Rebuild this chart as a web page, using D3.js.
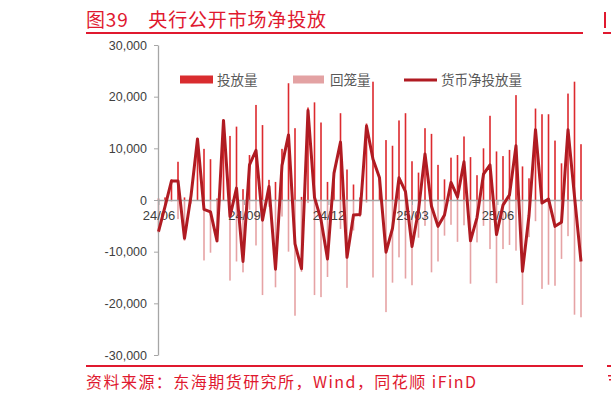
<!DOCTYPE html>
<html>
<head>
<meta charset="utf-8">
<script src="https://cdn.jsdelivr.net/npm/d3@7"></script>
<style>
  html, body { margin: 0; padding: 0; background: #fff; }
  svg { display: block; }
  text { font-family: "Liberation Sans", "Noto Sans CJK SC", sans-serif; }
  .cjk { font-family: "Noto Sans CJK SC", sans-serif; }
</style>
</head>
<body>
<div id="chart"></div>
<script>
'use strict'

// weekly data, first week ending 2024-06-07
const firstWeek = '2024-06-07'
const injection = [300, 500, 4000, 7400, 500, 1500, 12000, 9900, 7900, 300,
  15500, 12400, 14200, 2100, 8700, 18400, 14500, 3900, 3500, 9900,
  22600, 13900, 600, 17900, 18900, 15000, 3500, 5400, 16800, 5900,
  3000, 500, 14800, 22900, 4400, 11600, 10500, 15400, 16800, 7500,
  5300, 13900, 12800, 6800, 4000, 8200, 8700, 12300, 8300, 4800,
  10000, 16300, 9400, 8500, 9700, 20300, 6500, 4200, 17700, 16600,
  16600, 11500, 7100, 20600, 22900, 10800]
const withdrawal = [-6400, -1800, -300, -3700, -7900, -700, -200, -11700, -10200, -8200,
  -100, -15600, -11900, -14000, -1900, -8800, -18400, -1300, -16900, -3200,
  -10000, -22400, -13900, -600, -18400, -18800, -14900, -200, -5600, -17000,
  -5900, -3300, -500, -15000, -100, -21700, -16000, -11100, -15200, -16500,
  -7300, -5000, -14000, -11900, -6900, -4800, -8100, -4900, -16200, -8200,
  -5000, -9500, -16100, -9500, -8700, -9800, -20300, -7200, -4100, -17200,
  -16400, -16600, -11400, -7000, -22200, -22700]
const netInjection = [-6100, -1300, 3700, 3700, -7400, 800, 11800, -1800, -2300, -7900,
  15400, -3200, 2300, -11900, 6800, 9600, -3900, 2600, -13400, 6700,
  12600, -8500, -13300, 17300, 500, -3800, -11400, 5200, 11200, -11100,
  -2900, -2800, 14300, 7900, 4300, -10100, -5500, 4300, 1600, -9000,
  -2000, 8900, -1200, -5100, -2900, 3400, 600, 7400, -7900, -3400,
  5000, 6800, -6700, -1000, 1000, 10500, -13800, -3000, 13600, -600,
  200, -5100, -4300, 13600, 700, -11900]
const yTicks = [-30000, -20000, -10000, 0, 10000, 20000, 30000]
const xTickLabels = ['24/06', '24/09', '24/12', '25/03', '25/06']
const seriesNames = ['投放量', '回笼量', '货币净投放量']

const width = 611
const height = 400
const red = '#e0192f'

const start = d3.timeParse('%Y-%m-%d')(firstWeek)
const weeks = injection.map((d, i) => d3.timeWeek.offset(start, i))
const xTickDates = xTickLabels.map((d, i) => d3.timeMonth.offset(start, 3 * i))

const svg = d3.select('#chart')
  .append('svg')
  .attr('width', width)
  .attr('height', height)

const x = d3.scaleTime()
  .domain([weeks[0], weeks[weeks.length - 1]])
  .range([158.5, 581])
const y = d3.scaleLinear()
  .domain([-30000, 30000])
  .range([355, 45])

const fmt = d3.formatLocale({ decimal: '.', thousands: ',', grouping: [3], currency: ['', ''], minus: '-' }).format(',')

// title and source frame
svg.append('text')
  .attr('class', 'cjk')
  .attr('x', 86).attr('y', 27)
  .attr('font-size', 19)
  .attr('fill', red)
  .attr('textLength', 240)
  .attr('lengthAdjust', 'spacing')
  .text('图39　央行公开市场净投放')
svg.append('line')
  .attr('x1', 86).attr('x2', 583).attr('y1', 33).attr('y2', 33)
  .attr('stroke', red).attr('stroke-width', 2)
svg.append('line')
  .attr('x1', 86).attr('x2', 583).attr('y1', 366).attr('y2', 366)
  .attr('stroke', red).attr('stroke-width', 2)
svg.append('text')
  .attr('class', 'cjk')
  .attr('x', 86).attr('y', 388)
  .attr('font-size', 16)
  .attr('fill', red)
  .attr('textLength', 390)
  .attr('lengthAdjust', 'spacing')
  .text('资料来源：东海期货研究所，Wind，同花顺 iFinD')

// clipped edge of the neighbouring chart on the page
svg.append('rect').attr('x', 604).attr('y', 12).attr('width', 2).attr('height', 16).attr('fill', red)
svg.append('line')
  .attr('x1', 603).attr('x2', 611).attr('y1', 33).attr('y2', 33)
  .attr('stroke', red).attr('stroke-width', 2)
svg.append('line')
  .attr('x1', 607).attr('x2', 611).attr('y1', 366).attr('y2', 366)
  .attr('stroke', red).attr('stroke-width', 2)
svg.append('rect').attr('x', 608).attr('y', 375).attr('width', 3).attr('height', 1.5).attr('fill', red)
svg.append('rect').attr('x', 609).attr('y', 379).attr('width', 2).attr('height', 1.5).attr('fill', red)

// bars
const barW = 1.6
svg.append('g')
  .selectAll('rect')
  .data(withdrawal)
  .enter()
  .append('rect')
  .attr('x', (d, i) => x(weeks[i]) - barW / 2)
  .attr('y', y(0))
  .attr('width', barW)
  .attr('height', d => y(d) - y(0))
  .attr('fill', '#e6a3a5')

svg.append('g')
  .selectAll('rect')
  .data(injection)
  .enter()
  .append('rect')
  .attr('x', (d, i) => x(weeks[i]) - barW / 2)
  .attr('y', d => y(d))
  .attr('width', barW)
  .attr('height', d => y(0) - y(d))
  .attr('fill', '#dc2a2e')

// axes
const yAxis = svg.append('g')
  .attr('transform', 'translate(158,0)')
  .call(d3.axisLeft(y).tickValues(yTicks).tickFormat(fmt).tickSize(4).tickSizeOuter(0).tickPadding(7))
yAxis.select('.domain').attr('stroke', '#a6a6a6').attr('stroke-width', 1.3)
yAxis.selectAll('.tick line').attr('stroke', '#a6a6a6')
yAxis.selectAll('.tick text').attr('font-size', 12.5).attr('fill', '#404040')

const xAxis = svg.append('g')
  .attr('transform', `translate(0,${y(0)})`)
  .call(d3.axisBottom(x).tickValues(xTickDates).tickFormat((d, i) => xTickLabels[i]).tickSize(5).tickSizeOuter(0).tickPadding(6))
xAxis.select('.domain').attr('d', 'M158,0.5H583').attr('stroke', '#a6a6a6').attr('stroke-width', 1.5)
xAxis.selectAll('.tick line').attr('stroke', '#a6a6a6')
xAxis.selectAll('.tick text').attr('font-size', 13).attr('fill', '#404040')

// net line
const line = d3.line()
  .x((d, i) => x(weeks[i]))
  .y(d => y(d))
svg.append('path')
  .datum(netInjection)
  .attr('d', line)
  .attr('fill', 'none')
  .attr('stroke', '#b01b22')
  .attr('stroke-width', 3)
  .attr('stroke-linejoin', 'round')

// legend
const legend = svg.append('g').attr('class', 'cjk')
const legendX = [180, 293, 404]
legend.append('rect').attr('x', legendX[0]).attr('y', 75.5).attr('width', 33).attr('height', 8).attr('fill', '#d92c2f')
legend.append('rect').attr('x', legendX[1]).attr('y', 75.5).attr('width', 31).attr('height', 8).attr('fill', '#e3a2a3')
legend.append('line').attr('x1', legendX[2]).attr('x2', legendX[2] + 33).attr('y1', 80).attr('y2', 80)
  .attr('stroke', '#b01b22').attr('stroke-width', 3)
legend.selectAll('text')
  .data(seriesNames)
  .enter()
  .append('text')
  .attr('x', (d, i) => legendX[i] + 37)
  .attr('y', 85)
  .attr('font-size', 13.5)
  .attr('fill', '#595959')
  .text(d => d)
</script>
</body>
</html>
